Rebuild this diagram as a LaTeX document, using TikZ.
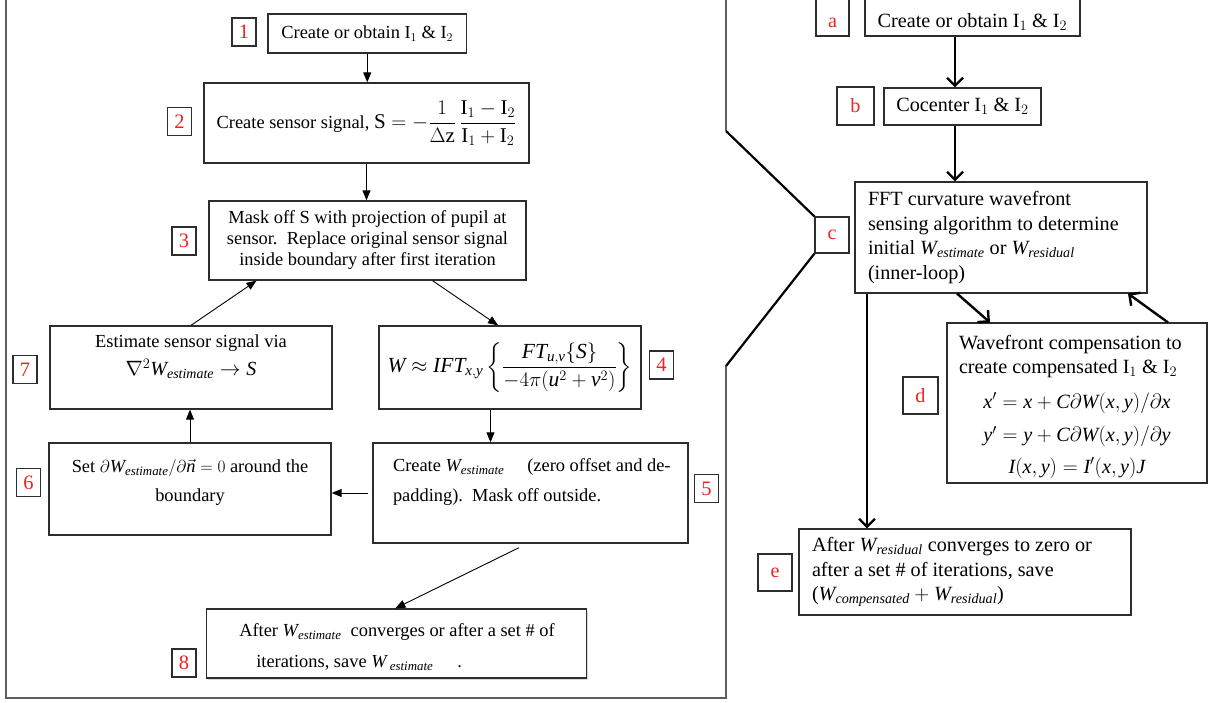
\documentclass[tikz,border=0pt]{standalone}
\usepackage{amsmath}
\usepackage{fontspec}
\setmainfont{Liberation Serif}
\usetikzlibrary{arrows.meta,shadows}

\definecolor{numred}{RGB}{238,36,36}
\definecolor{edgegray}{RGB}{45,45,45}
\definecolor{framegray}{RGB}{95,95,95}

\newcommand{\vi}[1]{\textit{#1}}
\newcommand{\West}{\vi{W}_{\vi{estimate}}}
\newcommand{\Wres}{\vi{W}_{\vi{residual}}}
\newcommand{\Ione}{\mathrm{I}_1}
\newcommand{\Itwo}{\mathrm{I}_2}

\tikzset{
  smallfont/.style={font=\fontsize{18.4}{21}\selectfont},
  bigfont/.style={font=\fontsize{20.2}{24.5}\selectfont},
  stepbox/.style={draw=edgegray, line width=1.3pt, inner sep=0pt, align=center, smallfont},
  numbox/.style={draw=edgegray, line width=1.3pt, inner sep=0pt, text=numred, minimum width=24pt, minimum height=28pt, font=\fontsize{20.5}{24}\selectfont},
  algobox/.style={draw=edgegray, line width=1.1pt, inner sep=0pt, bigfont},
  letterbox/.style={draw=edgegray, line width=1.1pt, inner sep=0pt, text=numred, bigfont},
  lowtext/.style={text height=21pt, text depth=0pt},
  flow/.style={-{Triangle[length=10pt,width=8pt]}, line width=0.9pt},
  bigflow/.style={-{Straight Barb[length=8pt,width=16pt]}, line width=2.4pt},
  zoomline/.style={line width=2.2pt}
}

\begin{document}
\begin{tikzpicture}[x=1pt, y=-1pt]

\useasboundingbox (0,0) rectangle (1211,702);
\clip (0,0) rectangle (1211,702);
\fill [white] (0,0) rectangle (1211,702);

% frame round the inner loop
\coordinate (ftl) at (6,-4);
\coordinate (fbl) at (6,698);
\coordinate (fbr) at (726,698);
\coordinate (flo) at (726,366);
\coordinate (ftr) at (726,-4);
\coordinate (fup) at (726,131);

\draw [framegray, line width=1.6pt] (ftl) -- (fbl) -- (fbr) -- (flo);
\draw [framegray, line width=1.6pt] (ftr) -- (fup);

% numbered steps
\node (b1) at (367.25,33.5) [stepbox, minimum width=198.5pt, minimum height=39pt] {Create or obtain $\Ione$ \& $\Itwo$};
\node (n1) at (244,32) [numbox] {1};

\node (b2) at (366.5,123) [stepbox, minimum width=325pt, minimum height=80pt]
  {Create sensor signal, {\fontsize{21}{24}\selectfont$\mathrm{S}=-\dfrac{1}{\Delta\mathrm{z}}\,\dfrac{\Ione-\Itwo}{\Ione+\Itwo}$}};
\node (n2) at (179.5,121.5) [numbox] {2};

\node (b3) at (367.5,240.5) [stepbox, minimum width=317pt, minimum height=79pt]
  {Mask off S with projection of pupil at\\sensor.\ \ Replace original sensor signal\\inside boundary after first iteration};
\node (n3) at (184,241) [numbox] {3};

\node (b7) at (191,367.5) [stepbox]
  {\parbox[c][83pt][t]{282pt}{\centering\vspace*{9pt}Estimate sensor signal via\\[7pt]{\fontsize{20}{24}\selectfont$\nabla^2\West\to\vi{S}$}}};
\node (n7) at (25,369.5) [numbox] {7};

\node (b4) at (510,367.5) [stepbox, minimum width=262pt, minimum height=83pt, font=\fontsize{21.5}{25}\selectfont]
  {$\vi{W}\approx\vi{IFT}_{\vi{x},\vi{y}}\left\{\dfrac{\vi{FT}_{\vi{u},\vi{v}}\{\vi{S}\}}{-4\pi(\vi{u}^2+\vi{v}^2)}\right\}$};
\node (n4) at (661.5,365) [numbox] {4};

\node (b5) at (530.5,493) [stepbox]
  {\parbox[c][100pt][t]{315pt}{\leftskip=20pt\vspace*{16pt}Create $\West$\quad\ (zero offset and de-\\[9pt]padding).\ \ Mask off outside.}};
\node (n5) at (706.5,488.5) [numbox] {5};

\node (b6) at (190,489) [stepbox]
  {\parbox[c][92pt][t]{282pt}{\centering\vspace*{16pt}Set $\partial\West/\partial\vec{\vi{n}}=0$\ around the\\[8pt]boundary}};
\node (n6) at (28.5,482.5) [numbox] {6};

\node (b8) at (396.3,643.5) [stepbox, fill=white, drop shadow={shadow xshift=1.5pt, shadow yshift=-2pt, opacity=0.3}]
  {\parbox[c][69pt][t]{380pt}{\vspace*{15pt}\hspace*{33pt}After $\West$\ \ converges or after a set \# of\\[10pt]\hspace*{50pt}iterations, save $\vi{W}_{\;\vi{estimate}}$\hspace{1.3em}.}};
\node (n8) at (184,663) [numbox] {8};

\draw [flow] (b1.south) to (b1.south |- b2.north);
\draw [flow] (b2.south) to (b2.south |- b3.north);
\draw [flow] ([xshift=65pt]b3.south) to ([xshift=-12pt]b4.north);
\draw [flow] (b7.north) to ([xshift=-111pt]b3.south);
\draw [flow] ([xshift=-19.5pt]b4.south) to ([xshift=-40pt]b5.north);
\draw [flow] ([xshift=-4pt]b5.west) to (b5.west -| b6.east);
\draw [flow] (b6.north) to (b6.north |- b7.south);
\draw [flow] ([xshift=-11.5pt,yshift=-4pt]b5.south) to ([xshift=-1pt]b8.north);

%%%%%%%%%%%%%%%%%%%%%%%%%%%%%%%%%%%%%%%%%%%%%%%%%%%%%%%%%%%%%%%%%%%%%%%%%%%%%%%%%%%

\node (ba) at (972.5,17) [algobox, lowtext, minimum width=215pt, minimum height=38pt] {Create or obtain $\Ione$ \& $\Itwo$};
\node (la) at (832.5,17) [letterbox, lowtext, minimum width=33pt, minimum height=38pt] {a};

\node (bb) at (962.5,106.5) [algobox, minimum width=157pt, minimum height=37pt] {Cocenter $\Ione$ \& $\Itwo$};
\node (lb) at (855.5,106) [letterbox, minimum width=37pt, minimum height=38pt] {b};

\node (bc) at (1001,237.5) [algobox, minimum width=292pt, minimum height=111pt]
  {\parbox{266pt}{\raggedright FFT curvature wavefront\\sensing algorithm to determine\\initial $\West$ or $\Wres$\\(inner-loop)}};
\node (lc) at (832,235) [letterbox, minimum width=34pt, minimum height=36pt] {c};

\node (bd) at (1077,403) [algobox, minimum width=260pt, minimum height=160pt]
  {\parbox[c][160pt][t]{236pt}{\raggedright\vspace*{12pt}Wavefront compensation to\\create compensated $\Ione$ \& $\Itwo$\par
   \centering\vspace{10pt}$\vi{x}'=\vi{x}+\vi{C}\partial\vi{W}(\vi{x},\vi{y})/\partial\vi{x}$\\[9pt]
   $\vi{y}'=\vi{y}+\vi{C}\partial\vi{W}(\vi{x},\vi{y})/\partial\vi{y}$\\[7pt]
   $\vi{I}(\vi{x},\vi{y})=\vi{I}'(\vi{x},\vi{y})\vi{J}$}};
\node (ld) at (920.5,395.5) [letterbox, minimum width=35pt, minimum height=37pt] {d};

\node (be) at (965,572) [algobox, minimum width=332pt, minimum height=86pt]
  {\parbox{306pt}{\raggedright After $\Wres$ converges to zero or\\after a set \# of iterations, save\\($\vi{W}_{\vi{compensated}}+\Wres$)}};
\node (le) at (775,572.5) [letterbox, minimum width=34pt, minimum height=37pt] {e};

\draw [bigflow] ([xshift=-7.5pt]bb.north |- ba.south) to ([xshift=-7.5pt]bb.north);
\draw [bigflow] ([xshift=-7.5pt]bb.south) to ([xshift=-46pt]bc.north);
\draw [bigflow] ([xshift=-44pt]bc.south) to ([xshift=-87pt]bd.north);
\draw [bigflow] ([xshift=91pt]bd.north) to ([xshift=127pt]bc.south);
\draw [bigflow] ([xshift=-134pt]bc.south) to ([xshift=-98pt]be.north);

% zoom lines from c to the frame
\draw [zoomline] (fup) to (lc.north west);
\draw [zoomline] (lc.south west) to (flo);

\end{tikzpicture}
\end{document}
